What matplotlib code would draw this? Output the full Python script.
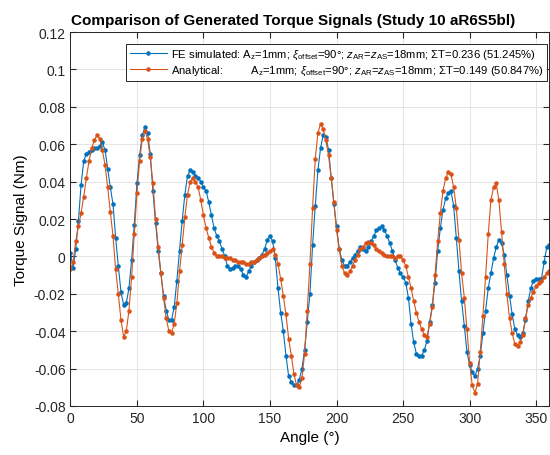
import numpy as np
from matplotlib import pyplot as plt

plt.rcParams['font.family'] = ['Liberation Sans', 'DejaVu Sans']
plt.rcParams['mathtext.fontset'] = 'custom'
plt.rcParams['mathtext.rm'] = 'Liberation Sans'
plt.rcParams['mathtext.it'] = 'Liberation Sans:italic'

# angles in degrees, 2 degree steps
angle = np.arange(0, 361, 2)

fe_simulated = [
    0.002, -0.006, 0.004, 0.019, 0.038, 0.051, 0.055, 0.056, 0.057, 0.058,
    0.058, 0.059, 0.061, 0.057, 0.047, 0.037, 0.028, 0.010, -0.005, -0.019,
    -0.026, -0.025, -0.017, -0.002, 0.017, 0.039, 0.054, 0.065, 0.069, 0.066,
    0.055, 0.035, 0.018, 0.003, -0.009, -0.021, -0.029, -0.034, -0.034, -0.027,
    -0.013, 0.003, 0.019, 0.033, 0.043, 0.046, 0.045, 0.043, 0.042, 0.040,
    0.037, 0.035, 0.029, 0.022, 0.015, 0.011, 0.008, 0.004, 0.000, -0.005,
    -0.007, -0.006, -0.005, -0.005, -0.007, -0.010, -0.011, -0.008, -0.005, -0.003,
    -0.002, -0.001, 0.001, 0.004, 0.009, 0.011, 0.008, -0.001, -0.017, -0.030,
    -0.040, -0.053, -0.064, -0.067, -0.069, -0.069, -0.066, -0.060, -0.050, -0.035,
    -0.020, 0.006, 0.027, 0.046, 0.058, 0.065, 0.064, 0.057, 0.042, 0.028,
    0.016, 0.004, -0.002, -0.005, -0.005, -0.003, -0.001, 0.001, 0.003, 0.005,
    0.004, 0.003, 0.005, 0.008, 0.011, 0.014, 0.015, 0.016, 0.014, 0.011,
    0.007, 0.003, -0.002, -0.006, -0.009, -0.011, -0.014, -0.022, -0.036, -0.046,
    -0.052, -0.053, -0.053, -0.050, -0.045, -0.035, -0.026, -0.014, 0.003, 0.015,
    0.025, 0.031, 0.034, 0.035, 0.027, 0.010, -0.008, -0.024, -0.037, -0.051,
    -0.058, -0.062, -0.064, -0.060, -0.053, -0.041, -0.029, -0.017, -0.009, -0.001,
    0.005, 0.009, 0.007, 0.001, -0.010, -0.021, -0.031, -0.039, -0.042, -0.043,
    -0.041, -0.034, -0.024, -0.017, -0.013, -0.012, -0.012, -0.012, -0.003, 0.005,
    0.006,
]

analytical = [
    -0.007, -0.003, 0.008, 0.016, 0.023, 0.032, 0.042, 0.051, 0.058, 0.062,
    0.065, 0.063, 0.057, 0.049, 0.037, 0.024, 0.011, -0.007, -0.020, -0.034,
    -0.043, -0.040, -0.029, -0.011, 0.012, 0.034, 0.051, 0.063, 0.067, 0.063,
    0.053, 0.039, 0.020, 0.005, -0.009, -0.022, -0.033, -0.040, -0.041, -0.036,
    -0.025, -0.008, 0.006, 0.021, 0.033, 0.040, 0.042, 0.040, 0.037, 0.030,
    0.022, 0.015, 0.010, 0.005, 0.002, 0.000, 0.000, 0.000, -0.001, -0.001,
    -0.001, -0.002, -0.002, -0.003, -0.003, -0.003, -0.004, -0.004, -0.003, -0.003,
    -0.002, -0.001, 0.000, 0.001, 0.002, 0.003, 0.004, 0.001, -0.004, -0.012,
    -0.021, -0.031, -0.044, -0.053, -0.063, -0.069, -0.070, -0.065, -0.052, -0.029,
    -0.004, 0.026, 0.052, 0.066, 0.071, 0.068, 0.062, 0.054, 0.042, 0.029,
    0.014, 0.004, -0.005, -0.009, -0.010, -0.008, -0.005, -0.002, 0.001, 0.004,
    0.005, 0.007, 0.0075, 0.007, 0.006, 0.004, 0.003, 0.002, 0.001, 0.000,
    0.000, 0.000, -0.001, 0.000, 0.000, -0.002, -0.005, -0.011, -0.017, -0.024,
    -0.030, -0.035, -0.039, -0.042, -0.043, -0.036, -0.027, -0.010, 0.008, 0.023,
    0.035, 0.042, 0.045, 0.044, 0.037, 0.026, 0.009, -0.009, -0.022, -0.039,
    -0.057, -0.069, -0.073, -0.068, -0.051, -0.032, -0.011, 0.012, 0.030, 0.037,
    0.039, 0.030, 0.013, -0.004, -0.020, -0.033, -0.041, -0.047, -0.048, -0.046,
    -0.042, -0.033, -0.026, -0.022, -0.019, -0.016, -0.014, -0.013, -0.011, -0.009,
    -0.008,
]

labels = [
    r'FE simulated: A$_{\rm z}$=1mm; $\xi_{\rm offset}$=90°; $z_{\rm AR}$=$z_{\rm AS}$=18mm; ΣT=0.236 (51.245%)',
    r'Analytical:         A$_{\rm z}$=1mm; $\xi_{\rm offset}$=90°; $z_{\rm AR}$=$z_{\rm AS}$=18mm; ΣT=0.149 (50.847%)',
]

fig = plt.figure(figsize=(5.5, 4.56), dpi=100)
ax = fig.add_axes([0.128, 0.1075, 0.871, 0.82])

ax.plot(angle, fe_simulated, '.-', color='#0072BD', lw=0.8, ms=4.5, label=labels[0])
ax.plot(angle, analytical, '.-', color='#D95319', lw=0.8, ms=4.5, label=labels[1])

ax.set_xlim(0, 360)
ax.set_ylim(-0.08, 0.12)
ax.set_xticks(np.arange(0, 351, 50))
yt = np.round(np.arange(-0.08, 0.121, 0.02), 2)
ax.set_yticks(yt)
ax.set_yticklabels(['0' if v == 0 else f'{v:g}' for v in yt])
ax.tick_params(direction='in', top=True, right=True, labelsize=10, colors='0.15', length=4)
ax.grid(True, color='0.88', lw=0.6)
for s in ax.spines.values():
    s.set_color('0.15')
    s.set_linewidth(0.7)

ax.set_xlabel('Angle (°)', fontsize=11)
ax.set_ylabel('Torque Signal (Nm)', fontsize=11)
ax.set_title('Comparison of Generated Torque Signals (Study 10 aR6S5bl)', fontsize=11,
             fontweight='bold', x=0.465)

leg = ax.legend(loc='upper right', bbox_to_anchor=(0.995, 0.968), fontsize=8.1, numpoints=1,
                handlelength=3.3, fancybox=False, framealpha=1, edgecolor='0.15',
                borderpad=0.3, labelspacing=0.3, handletextpad=0.4, borderaxespad=0)
leg.get_frame().set_linewidth(0.7)

fig.savefig('out.png', dpi=100)
